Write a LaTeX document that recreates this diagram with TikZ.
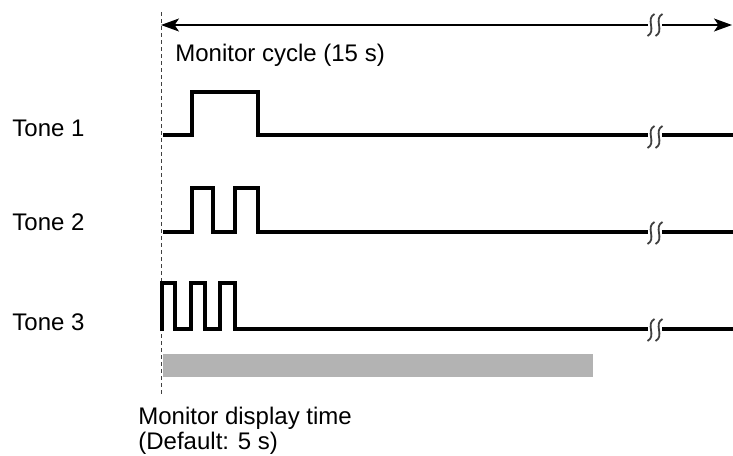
\documentclass[tikz,border=0pt]{standalone}
\usepackage{fontspec}
\setmainfont{Liberation Sans}
\usetikzlibrary{arrows.meta,positioning}
\definecolor{BarGray}{RGB}{179,179,179}
\definecolor{MarkGray}{RGB}{64,64,64}

\tikzset{
	gapmark/.pic={
		\draw[MarkGray, line width=0.9pt] (3.5,-11) .. controls (-6,-6) and (6,6) .. (-3.5,11);
	}
}

\begin{document}
\begin{tikzpicture}[x=0.5pt, y=-0.5pt, font=\fontsize{12}{12.5}\selectfont,
		wave/.style={line width=2pt, line join=miter},
		lbl/.style={anchor=west, inner sep=0pt}]
		\useasboundingbox (0,0) rectangle (733,455);
		
		% 起始时刻虚线
		\draw[MarkGray, line width=0.5pt, dash pattern=on 2pt off 1.5pt] (161,12) -- (161,395);
		
		% 监视周期箭头（中间断开）
		\coordinate (cycL) at (161,25);
		\coordinate (cycA) at (648,25);
		\coordinate (cycB) at (662,25);
		\coordinate (cycR) at (732,25);
		\draw[line width=0.6pt, {Stealth[length=9pt, width=6.5pt, inset=2.2pt]}-] (cycL) -- (cycA);
		\draw[line width=0.6pt, -{Stealth[length=9pt, width=6.5pt, inset=2.2pt]}] (cycB) -- (cycR);
		\node[lbl] (cyc) at (175,55) {Monitor cycle (15 s)};
		
		% 三种提示音波形
		\node[lbl] (tone1) at (12,128) {Tone 1};
		\draw[wave] (163,135) -- (192,135) -- (192,92) -- (258,92) -- (258,135) -- (648,135);
		\draw[wave] (662,135) -- (733,135);
		
		\node[lbl] (tone2) at (12,222) {Tone 2};
		\draw[wave] (163,232) -- (192,232) -- (192,188) -- (213,188) -- (213,232) -- (235,232)
			-- (235,188) -- (258,188) -- (258,232) -- (648,232);
		\draw[wave] (662,232) -- (733,232);
		
		\node[lbl] (tone3) at (12,322) {Tone 3};
		\draw[wave] (162,331) -- (162,283) -- (175,283) -- (175,329) -- (191,329) -- (191,283)
			-- (205,283) -- (205,329) -- (220,329) -- (220,283) -- (235,283) -- (235,329) -- (648,329);
		\draw[wave] (662,329) -- (733,329);
		
		% 断开符号
		\foreach \y in {25,137,233,330} {
			\pic at (651,\y) {gapmark};
			\pic at (659,\y) {gapmark};
		}
		
		% 显示时间条
		\fill[BarGray] (163,354) rectangle (593,377);
		\node[lbl, align=left] (disp) at (138,431) {Monitor display time\\(Default: 5 s)};
	\end{tikzpicture}
\end{document}
